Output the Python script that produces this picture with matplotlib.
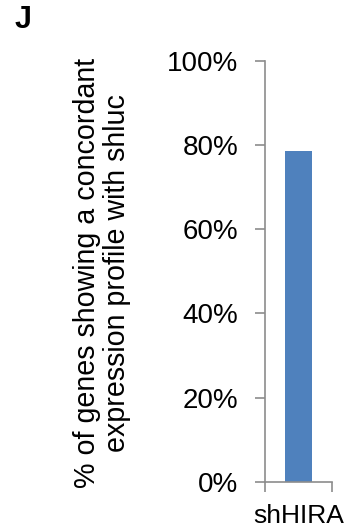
import matplotlib
matplotlib.use("Agg")
import matplotlib.pyplot as plt
from matplotlib.ticker import FuncFormatter

plt.rcParams['font.family'] = ['Liberation Sans', 'DejaVu Sans']

categories = ["shHIRA"]
values = [78.6]
yticks = [0, 20, 40, 60, 80, 100]

fig = plt.figure(figsize=(3.5, 5.32), dpi=100)
ax = fig.add_axes([264.5/350, 1-482/532, 67.5/350, (482-60.7)/532])

ax.bar(range(len(categories)), values, width=0.4, color="#4F81BD", zorder=2)
ax.set_xlim(-0.5, 0.5)
ax.set_ylim(0, 100)
ax.set_yticks(yticks)
ax.yaxis.set_major_formatter(FuncFormatter(lambda v, p: f"{int(v)}%"))
ax.set_xticks([-0.5, 0.5])
ax.set_xticklabels([])
ax.tick_params(axis='both', colors="#8C8C8C", length=7, width=1.2, labelcolor="black", labelsize=20)
ax.tick_params(axis='y', pad=12)
for s in ['top', 'right']:
    ax.spines[s].set_visible(False)
for s in ['left', 'bottom']:
    ax.spines[s].set_color("#8C8C8C")
    ax.spines[s].set_linewidth(1.2)

for i, c in enumerate(categories):
    ax.annotate(c, xy=(i, 0), xycoords='data', xytext=(0, -16*100/72), textcoords='offset pixels',
                ha='center', va='top', fontsize=19, annotation_clip=False)

fig.text(102/350, 1-273/532, "% of genes showing a concordant\nexpression profile with shluc",
         rotation=90, ha='center', va='center', fontsize=20.6, linespacing=1.05)
fig.text(23.5/350, 1-20/532, "J", fontsize=22, fontweight='bold', ha='center', va='center')

fig.savefig("out.png", dpi=100)
